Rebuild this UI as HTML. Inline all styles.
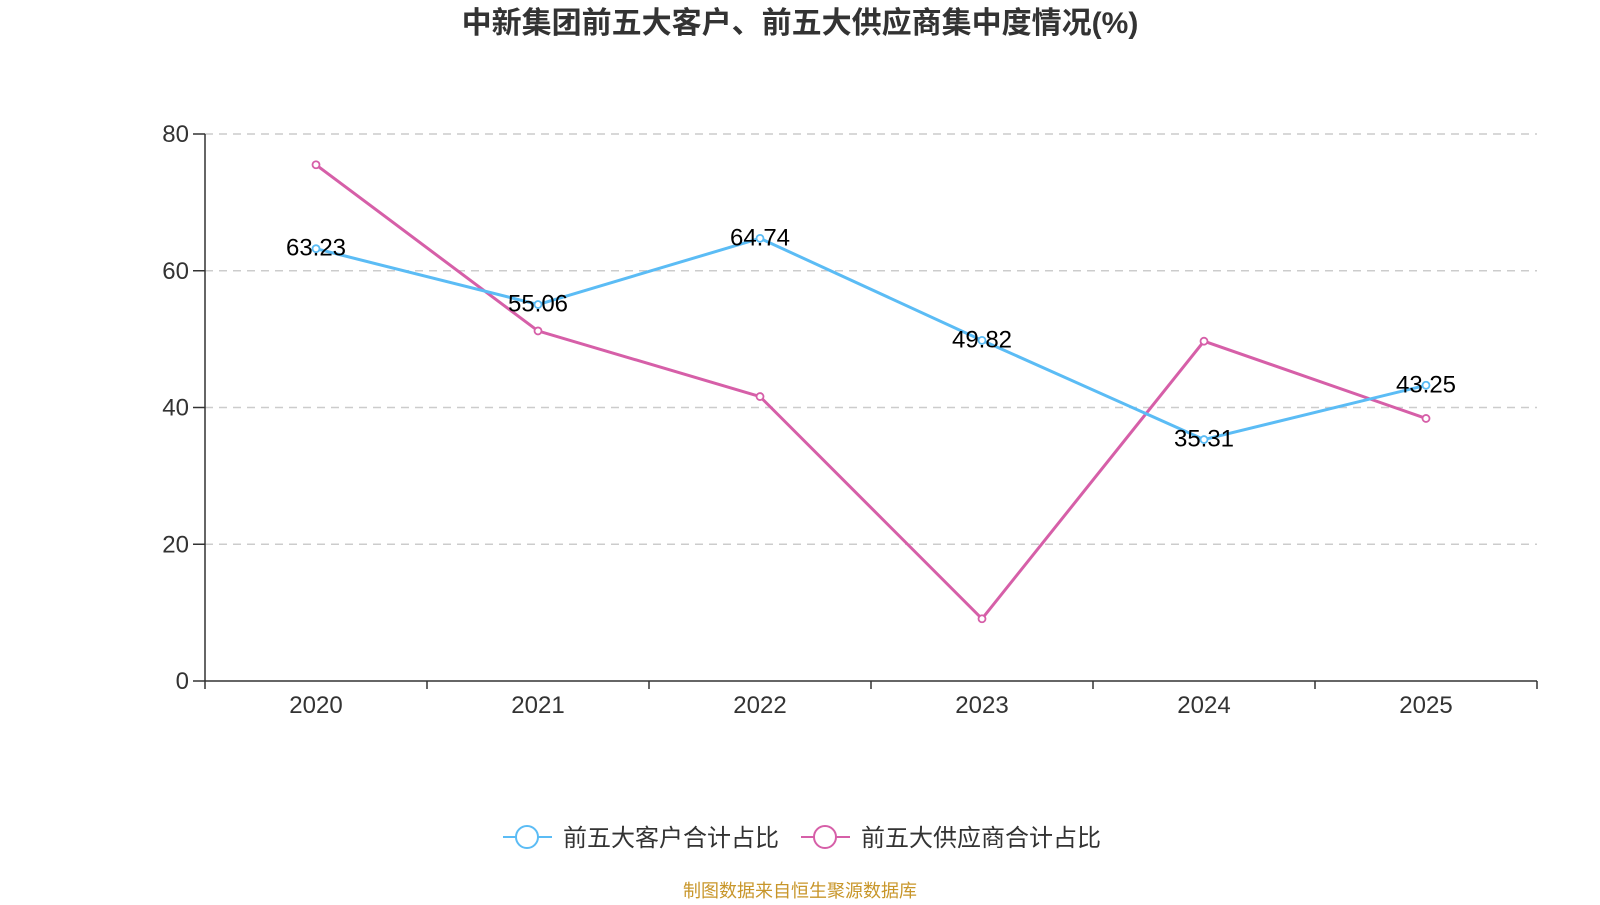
<!DOCTYPE html>
<html><head><meta charset="utf-8"><style>
body{margin:0;background:#fff;width:1600px;height:900px;overflow:hidden}
text{font-family:"Liberation Sans","Noto Sans CJK SC",sans-serif}
</style></head><body>
<svg id="chart" width="1600" height="900">
<text x="800" y="33" text-anchor="middle" font-size="30" font-weight="bold" fill="#333">中新集团前五大客户、前五大供应商集中度情况(%)</text>
<g id="grid"></g><g id="axes"></g><g id="series"></g>
<g>
<g>
<line x1="503" y1="837" x2="552" y2="837" stroke="#5bbcf5" stroke-width="2"/>
<circle cx="527" cy="837" r="11" fill="#fff" stroke="#5bbcf5" stroke-width="2"/>
<text x="563" y="846" font-size="24" fill="#333">前五大客户合计占比</text></g>
<g>
<line x1="801" y1="837" x2="850" y2="837" stroke="#d65fa8" stroke-width="2"/>
<circle cx="825" cy="837" r="11" fill="#fff" stroke="#d65fa8" stroke-width="2"/>
<text x="861" y="846" font-size="24" fill="#333">前五大供应商合计占比</text></g>
</g>
<text x="800" y="897" text-anchor="middle" font-size="18" fill="#c8962a">制图数据来自恒生聚源数据库</text>
</svg>
<script>
const categories=["2020","2021","2022","2023","2024","2025"];
const customers=[63.23,55.06,64.74,49.82,35.31,43.25];
const suppliers=[75.5,51.2,41.6,9.1,49.7,38.4];
const yTicks=[0,20,40,60,80];
const L=205,R=1537,T=134,B=681,yMax=80;
const ns="http://www.w3.org/2000/svg";
const bw=(R-L)/categories.length;
const x=i=>L+bw*(i+0.5);
const y=v=>B-(v/yMax)*(B-T);
function mk(tag,attrs,parent){const e=document.createElementNS(ns,tag);for(const k in attrs)e.setAttribute(k,attrs[k]);document.getElementById(parent).appendChild(e);return e;}
yTicks.forEach(t=>{
 if(t>0){const g=mk('line',{x1:L,x2:R,y1:y(t),y2:y(t),stroke:'#ccc','stroke-dasharray':'8,6','stroke-width':1.5},'grid');
 
 }
 const tk=mk('line',{x1:L-12,x2:L,y1:y(t),y2:y(t),stroke:'#333','stroke-width':1.5},'axes');
 
 
 const lb=mk('text',{x:L-16,y:y(t)+8,'text-anchor':'end','font-size':24,fill:'#333'},'axes');lb.textContent=t;
 
 
});
const ya=mk('line',{x1:L,x2:L,y1:T,y2:B,stroke:'#333','stroke-width':1.5},'axes');


const xa=mk('line',{x1:L,x2:R,y1:B,y2:B,stroke:'#333','stroke-width':1.5},'axes');


for(let i=0;i<=categories.length;i++){const t=mk('line',{x1:L+bw*i,x2:L+bw*i,y1:B,y2:B+8,stroke:'#333','stroke-width':1.5},'axes');
 
 }
categories.forEach((c,i)=>{const t=mk('text',{x:x(i),y:B+32,'text-anchor':'middle','font-size':24,fill:'#333'},'axes');t.textContent=c;
 
 });
function series(vals,color,name,labels){
 const p=mk('polyline',{points:vals.map((v,i)=>x(i)+','+y(v)).join(' '),fill:'none',stroke:color,'stroke-width':3},'series');
 
 
 vals.forEach((v,i)=>{const c=mk('circle',{cx:x(i),cy:y(v),r:3.5,fill:'#fff',stroke:color,'stroke-width':1.8},'series');
  
  
  if(labels){const t=mk('text',{x:x(i),y:y(v)+7,'text-anchor':'middle','font-size':24,fill:'#000'},'series');t.textContent=v.toFixed(2);
  
  }
 });
}
series(suppliers,'#d65fa8','suppliers',false);
series(customers,'#5bbcf5','customers',true);
</script>
</body></html>
